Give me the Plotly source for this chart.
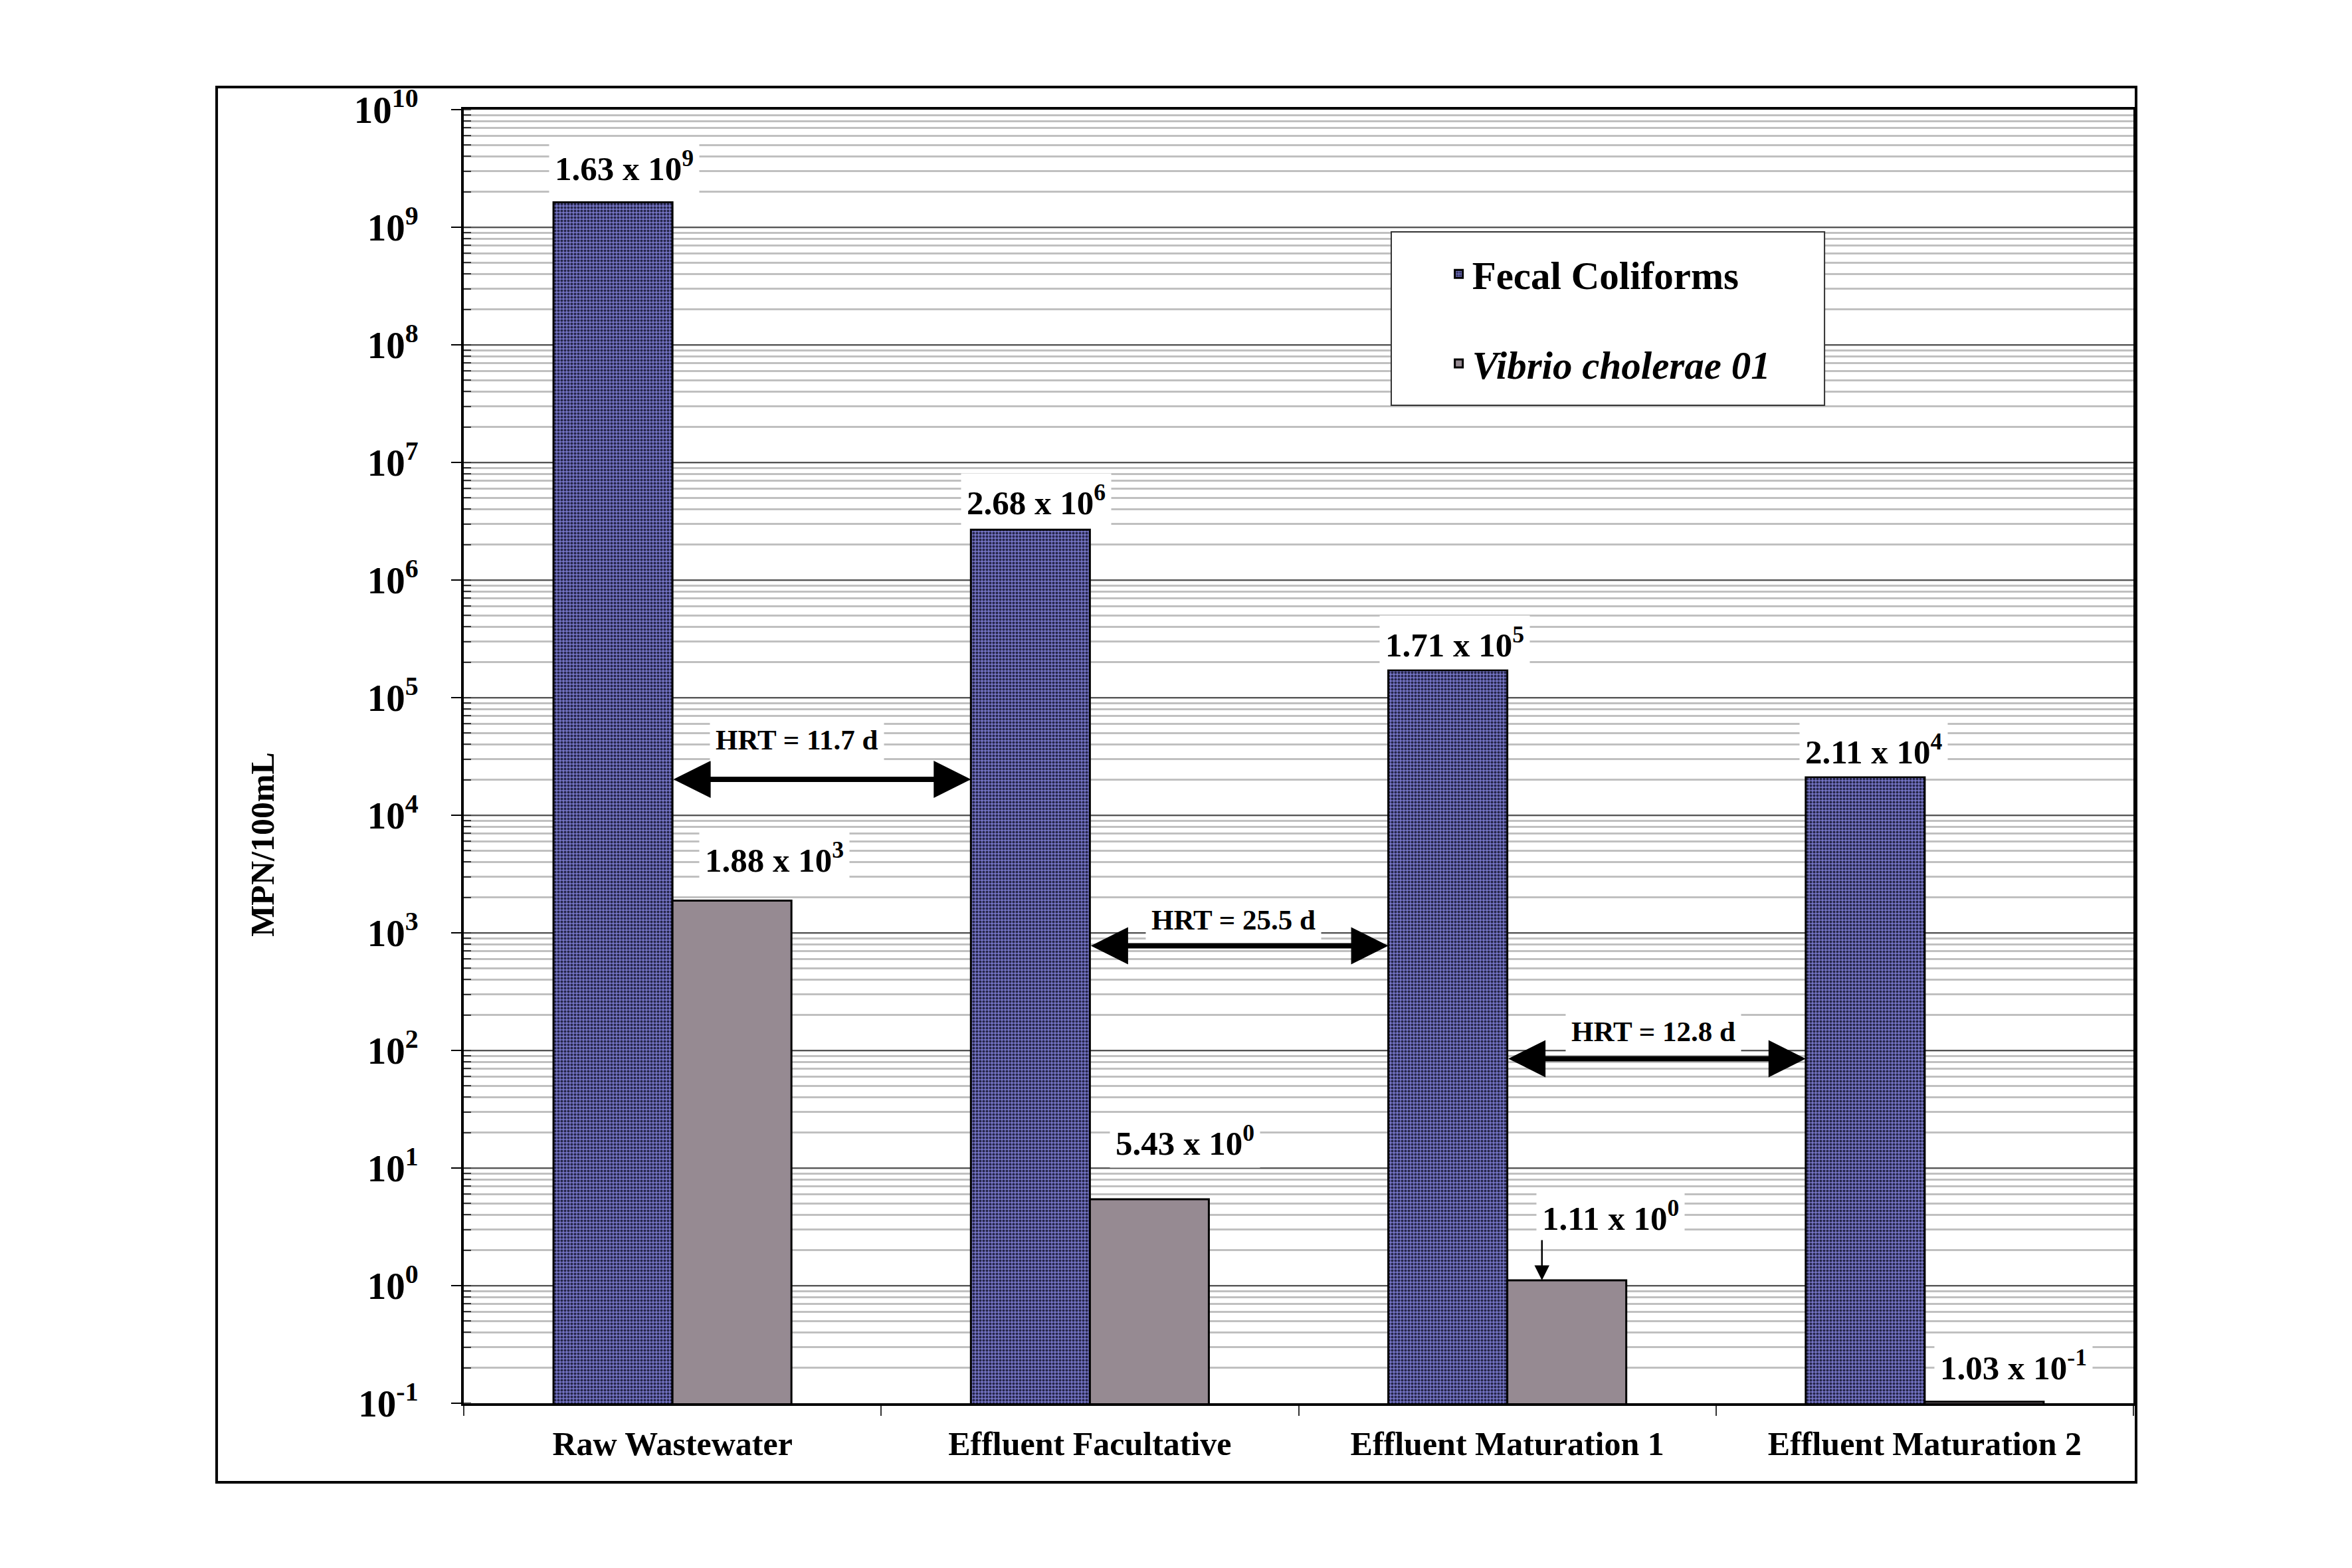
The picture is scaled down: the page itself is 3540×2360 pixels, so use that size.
import math
import plotly.graph_objects as go

# ---------------- data ----------------
categories = ["Raw Wastewater", "Effluent Facultative", "Effluent Maturation 1", "Effluent Maturation 2"]
fecal_coliforms = [1.63e9, 2.68e6, 1.71e5, 2.11e4]
vibrio_cholerae = [1.88e3, 5.43, 1.11, 0.103]
hrt_days = [11.7, 25.5, 12.8]
y_exponents = list(range(-1, 11))

# ---------------- layout helpers (label placement, not data) ----------------
fecal_label_dx = [-0.115, -0.129, -0.126, -0.123]
fecal_label_logy = [9.52, 6.68, 5.47, 4.56]
vibrio_label_dx = [0.244, 0.228, 0.248, 0.212]
vibrio_label_logy = [3.64, 1.23, 0.593, -0.68]
hrt_arrow_logy = [4.305, 2.89, 1.93]
hrt_label_dx = [0.298, 0.344, 0.35]
hrt_label_logy = [4.64, 3.11, 2.16]

FONT = "Liberation Serif"
BAR_W = 0.285  # bar width in category units (bargap 0.43, two bars)


def sci(v):
    e = int(math.floor(math.log10(v)))
    m = v / 10 ** e
    return f"{m:.2f} x 10<sup>{e}</sup>"


fig = go.Figure()
fig.add_trace(go.Bar(
    x=categories, y=fecal_coliforms, name="Fecal Coliforms",
    legendgroup="a",
    marker=dict(color="#7474c4",
                pattern=dict(shape=".", fgcolor="#26264a", bgcolor="#7474c4",
                             size=5, solidity=0.5, fillmode="replace"),
                line=dict(color="black", width=3)),
))
fig.add_trace(go.Bar(
    x=categories, y=vibrio_cholerae, name="<i>Vibrio cholerae 01</i>",
    legendgroup="b",
    marker=dict(color="#968a92", line=dict(color="black", width=3)),
))

annotations = []
for i, v in enumerate(fecal_coliforms):
    annotations.append(dict(x=i + fecal_label_dx[i], y=fecal_label_logy[i], xref="x", yref="y",
                            text=sci(v), showarrow=False, bgcolor="white", borderpad=8,
                            font=dict(family=FONT, size=51, color="black", weight="bold")))
for i, v in enumerate(vibrio_cholerae):
    annotations.append(dict(x=i + vibrio_label_dx[i], y=vibrio_label_logy[i], xref="x", yref="y",
                            text=sci(v), showarrow=False, bgcolor="white", borderpad=8,
                            font=dict(family=FONT, size=51, color="black", weight="bold")))
# pointer to the small Vibrio bar in Maturation 1
annotations.append(dict(x=2 + 0.083, y=math.log10(vibrio_cholerae[2]), xref="x", yref="y",
                        ax=0, ay=-62, text="", showarrow=True, arrowhead=2, arrowsize=1.8,
                        arrowwidth=2.5, arrowcolor="black"))
# HRT double arrows between the Fecal bars
for i, h in enumerate(hrt_days):
    annotations.append(dict(x=i + 1 - BAR_W, y=hrt_arrow_logy[i], xref="x", yref="y",
                            ax=i, ay=hrt_arrow_logy[i], axref="x", ayref="y",
                            text="", showarrow=True, arrowhead=2, arrowside="end+start",
                            arrowsize=1.4, arrowwidth=8, arrowcolor="black", standoff=0,
                            startstandoff=0))
    annotations.append(dict(x=i + hrt_label_dx[i], y=hrt_label_logy[i], xref="x", yref="y",
                            text=f"HRT = {h} d", showarrow=False, bgcolor="white", borderpad=8,
                            font=dict(family=FONT, size=43, color="black", weight="bold")))
# y-axis title (placed like the original, below the axis middle)
annotations.append(dict(x=-0.1206, y=0.432, xref="paper", yref="paper", text="MPN/100mL",
                        textangle=-90, showarrow=False, xanchor="center", yanchor="middle",
                        font=dict(family=FONT, size=50, color="black", weight="bold")))

shapes = [
    # outer frame
    dict(type="rect", xref="paper", yref="paper", x0=-0.148, x1=1.0016, y0=-0.0611, y1=1.0175,
         line=dict(color="black", width=4), fillcolor="rgba(0,0,0,0)", layer="above"),
    # legend box
    dict(type="rect", xref="paper", yref="paper", x0=0.5555, x1=0.815, y0=0.7714, y1=0.9055,
         line=dict(color="#333333", width=2), fillcolor="white", layer="above"),
]

fig.update_layout(
    width=3524, height=2344,
    margin=dict(l=690, r=321, t=157, b=240),
    paper_bgcolor="white", plot_bgcolor="white",
    barmode="group", bargap=0.43, bargroupgap=0,
    font=dict(family=FONT, color="black", weight="bold"),
    showlegend=True,
    legend=dict(x=0.588, y=0.896, xanchor="left", yanchor="top",
                bgcolor="rgba(0,0,0,0)", borderwidth=0,
                traceorder="grouped", tracegroupgap=55,
                font=dict(family=FONT, size=59, color="black", weight="bold")),
    annotations=annotations,
    shapes=shapes,
    xaxis=dict(
        type="category", categoryorder="array", categoryarray=categories,
        showline=True, linecolor="black", linewidth=4, mirror=True,
        ticks="outside", tickson="boundaries", ticklen=15, tickwidth=2, tickcolor="#333333",
        ticklabelstandoff=14,
        tickfont=dict(family=FONT, size=50, color="black", weight="bold"),
        showgrid=False, zeroline=False,
    ),
    yaxis=dict(
        type="log", range=[-1, 10],
        tickvals=[10 ** e for e in y_exponents],
        ticktext=[f"10<sup>{e}</sup>" for e in y_exponents],
        showline=True, linecolor="black", linewidth=4, mirror=True,
        ticks="outside", ticklen=15, tickwidth=2, tickcolor="black",
        ticklabelstandoff=38,
        tickfont=dict(family=FONT, size=57, color="black", weight="bold"),
        showgrid=True, gridcolor="#555555", gridwidth=2,
        minor=dict(dtick="D1", showgrid=True, gridcolor="#c0c0c0", gridwidth=3,
                   ticks="inside", ticklen=11, tickwidth=2, tickcolor="#333333"),
        zeroline=False,
    ),
)

fig.write_html("out.html")
